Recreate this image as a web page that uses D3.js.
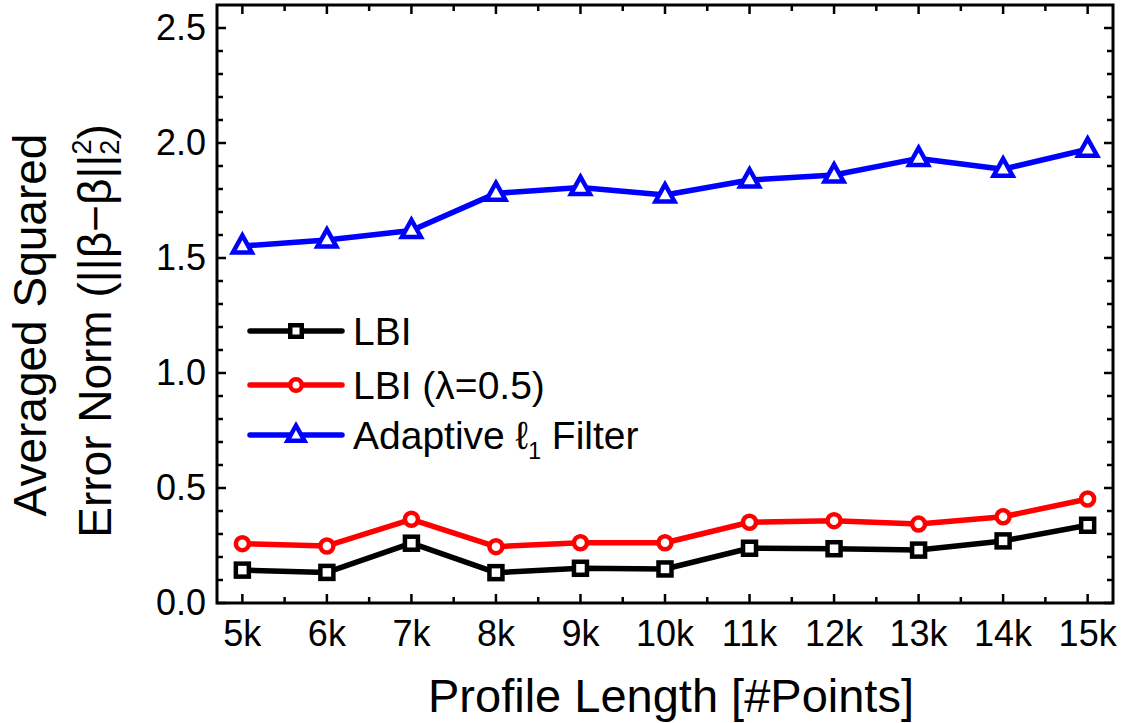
<!DOCTYPE html>
<html><head><meta charset="utf-8">
<script src="https://cdn.jsdelivr.net/npm/d3@7"></script>
<style>body{margin:0;background:#fff}svg{display:block}text{font-family:"Liberation Sans",Arial,sans-serif;fill:#000}</style>
</head><body><svg id="c" width="1125" height="723"></svg>
<script>
const categories = [5,6,7,8,9,10,11,12,13,14,15];
const xTickLabels = ["5k","6k","7k","8k","9k","10k","11k","12k","13k","14k","15k"];
const lbi = [0.143,0.133,0.260,0.132,0.151,0.148,0.238,0.236,0.230,0.270,0.338];
const lbiLambda = [0.258,0.248,0.364,0.245,0.262,0.262,0.351,0.358,0.343,0.375,0.452];
const adaptive = [1.552,1.578,1.620,1.781,1.807,1.774,1.839,1.861,1.933,1.886,1.973];
const yTicks = [0.0,0.5,1.0,1.5,2.0,2.5];
const seriesNames = ["LBI","LBI (λ=0.5)","Adaptive ℓ"];

const svg = d3.select("#c");
const L=217,R=1113,T=5,B=603;
const x = d3.scaleLinear().domain([4.7,15.3]).range([L,R]);
const y = d3.scaleLinear().domain([0,2.6]).range([B,T]);

const series = [
  {name:seriesNames[0], vals:lbi, color:"#000000", shape:"square"},
  {name:seriesNames[1], vals:lbiLambda, color:"#ff0000", shape:"circle"},
  {name:seriesNames[2], vals:adaptive, color:"#0000ff", shape:"triangle"}
];

const minorY = d3.range(0,26).map(i=>i/10);
const majorX = categories, minorX = categories.slice(0,-1).map(v=>v+0.5);
const g = svg.append("g");
function tl(x1,y1,x2,y2){g.append("line").attr("x1",x1).attr("y1",y1).attr("x2",x2).attr("y2",y2).attr("stroke","#000").attr("stroke-width",2.5);}
minorY.forEach(v=>{const major=Math.abs(v*2-Math.round(v*2))<1e-6;const len=major?9:6;const py=y(v);
  tl(L,py,L+len,py); tl(R,py,R-len,py);});
majorX.forEach(v=>{const px=x(v);tl(px,B,px,B-9);tl(px,T,px,T+9);});
minorX.forEach(v=>{const px=x(v);tl(px,B,px,B-6);tl(px,T,px,T+6);});
g.append("rect").attr("x",L).attr("y",T).attr("width",R-L).attr("height",B-T).attr("fill","none").attr("stroke","#000").attr("stroke-width",3);

yTicks.forEach(v=>svg.append("text").attr("x",206).attr("y",y(v)+12).attr("text-anchor","end").attr("font-size",36).text(v.toFixed(1)));
categories.forEach((v,i)=>svg.append("text").attr("x",x(v)).attr("y",646).attr("text-anchor","middle").attr("font-size",36).text(xTickLabels[i]));

svg.append("text").attr("x",671).attr("y",712).attr("text-anchor","middle").attr("font-size",47).text("Profile Length [#Points]");
svg.append("text").attr("transform","translate(46,325) rotate(-90)").attr("text-anchor","middle").attr("font-size",46).text("Averaged Squared");
const t2 = svg.append("text").attr("transform","translate(111,331) rotate(-90)").attr("text-anchor","middle").attr("font-size",46);
t2.append("tspan").text("Error Norm (||β−β||");
t2.append("tspan").attr("font-size",27).attr("dy",8).text("2");
t2.append("tspan").attr("font-size",27).attr("dx",-15).attr("dy",-28).text("2");
t2.append("tspan").attr("dy",20).text(")");

function marker(sel,shape,color,cx,cy,s){
  if(shape==="square") sel.append("rect").attr("x",cx-s/2).attr("y",cy-s/2).attr("width",s).attr("height",s).attr("fill","#fff").attr("stroke",color).attr("stroke-width",4.5);
  else if(shape==="circle") sel.append("circle").attr("cx",cx).attr("cy",cy).attr("r",s/2).attr("fill","#fff").attr("stroke",color).attr("stroke-width",4.5);
  else { const h=s*0.9; sel.append("path").attr("d",`M${cx},${cy-h*0.62}L${cx+s/2},${cy+h*0.38}L${cx-s/2},${cy+h*0.38}Z`).attr("fill","#fff").attr("stroke",color).attr("stroke-width",4.5).attr("stroke-linejoin","miter");}
}
const line = d3.line().x((d,i)=>x(categories[i])).y(d=>y(d));
series.forEach(s=>{
  svg.append("path").attr("d",line(s.vals)).attr("fill","none").attr("stroke",s.color).attr("stroke-width",5.5).attr("stroke-linejoin","round");
});
series.forEach(s=>{
  const gg=svg.append("g");
  s.vals.forEach((v,i)=>marker(gg,s.shape,s.color,x(categories[i]),y(v),s.shape==="triangle"?19:13));
});

const legY=[331,385,435];
series.forEach((s,i)=>{
  svg.append("line").attr("x1",250).attr("x2",342).attr("y1",legY[i]).attr("y2",legY[i]).attr("stroke",s.color).attr("stroke-width",5.5).attr("stroke-linecap","round");
  marker(svg,s.shape,s.color,296,legY[i],s.shape==="triangle"?17:11.5);
  const t=svg.append("text").attr("x",353).attr("y",legY[i]+14).attr("font-size",39).text(s.name);
  if(i===2){ t.append("tspan").attr("font-size",23).attr("dy",10).text("1"); t.append("tspan").attr("dy",-10).text(" Filter"); }
});
</script></body></html>
